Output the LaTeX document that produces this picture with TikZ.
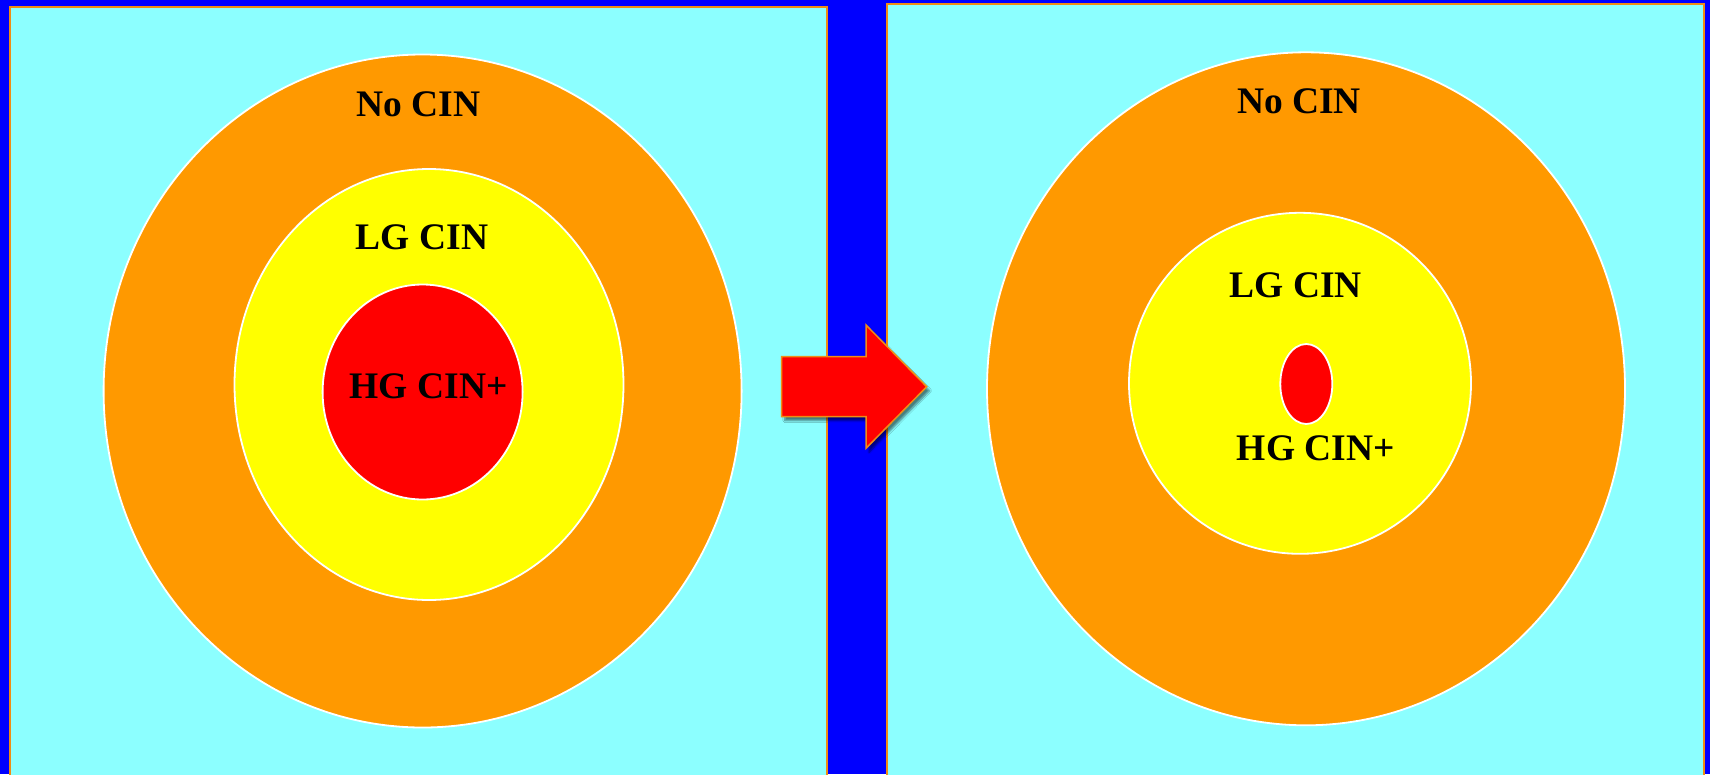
\documentclass[tikz,border=0pt]{standalone}
\usepackage{fontspec}
\setmainfont{Liberation Serif}
\usetikzlibrary{shapes.geometric,shadows.blur}
\definecolor{bgblue}{RGB}{0,0,255}
\definecolor{panelcyan}{RGB}{140,255,255}
\definecolor{ringorange}{RGB}{255,153,0}
\definecolor{ringyellow}{RGB}{255,255,0}
\definecolor{corered}{RGB}{255,0,0}
\definecolor{edgeorange}{RGB}{240,140,20}
\tikzset{
  panel/.style={fill=panelcyan, draw=edgeorange, line width=2.5pt},
  ring/.style={ellipse, draw=white, line width=1.8pt, inner sep=0pt},
  lbl/.style={font=\fontsize{37.5}{42}\selectfont\bfseries, anchor=base, inner sep=0pt, text=black},
}
\begin{document}
\begin{tikzpicture}[x=1pt,y=-1pt]
\fill[bgblue] (0,0) rectangle (1710,774);
\useasboundingbox (0,0) rectangle (1710,774);
% panels
\draw[panel] (10,7) rectangle (827,790);
\draw[panel] (887,4) rectangle (1704,790);
% left rings
\node[ring, fill=ringorange, minimum width=638pt, minimum height=673pt] (lo) at (422.6,391) {};
\node[ring, fill=ringyellow, minimum width=389pt, minimum height=431pt] (ly) at (429,384.5) {};
\node[ring, fill=corered, minimum width=200pt, minimum height=215pt] (lr) at (422.6,392) {};
% right rings
\node[ring, fill=ringorange, minimum width=638pt, minimum height=673pt] (ro) at (1306,388.8) {};
\node[ring, fill=ringyellow, minimum width=342pt, minimum height=341pt] (ry) at (1300,383.3) {};
\node[ring, fill=corered, minimum width=52pt, minimum height=80pt] (rr) at (1306.3,384) {};
% labels
\node[lbl] (lno) at (418.5,116.7) {No CIN};
\node[lbl] (llg) at (422,249.8) {LG CIN};
\node[lbl] (lhg) at (428.7,398.3) {HG CIN+};
\node[lbl] (rno) at (1299,113.4) {No CIN};
\node[lbl] (rlg) at (1295.6,297.7) {LG CIN};
\node[lbl] (rhg) at (1315.8,460) {HG CIN+};
% arrow
\draw[fill=corered, draw=edgeorange, line width=1.5pt, line join=miter,
      blur shadow={shadow xshift=3pt, shadow yshift=-4pt, shadow blur steps=6, shadow opacity=50}]
  (781.7,356.7) -- (866,356.7) -- (866,325) -- (926.7,386.7) -- (866,448.3) -- (866,416.7) -- (781.7,416.7) -- cycle;
\end{tikzpicture}
\end{document}
